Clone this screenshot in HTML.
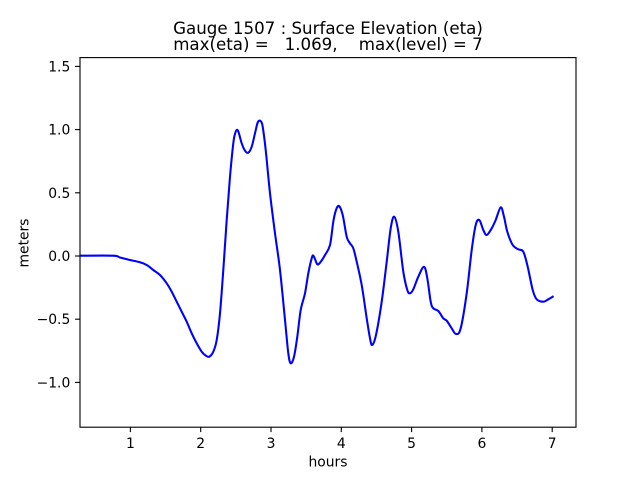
<!DOCTYPE html>
<html>
<head>
<meta charset="utf-8">
<style>
  html, body { margin: 0; padding: 0; background: #ffffff; }
  svg { display: block; }
  text { font-family: "DejaVu Sans", "Liberation Sans", sans-serif; fill: #000; }
</style>
</head>
<body>
<svg width="640" height="480" viewBox="0 0 640 480" xmlns="http://www.w3.org/2000/svg">
  <rect x="0" y="0" width="640" height="480" fill="#ffffff"/>

  <!-- Title -->
  <text x="328" y="34" font-size="16.67" text-anchor="middle" style="white-space:pre">Gauge 1507 : Surface Elevation (eta)</text>
  <text x="328" y="50" font-size="16.67" text-anchor="middle" style="white-space:pre" xml:space="preserve">max(eta) =   1.069,    max(level) = 7</text>

  <!-- Data line -->
  <polyline id="pl" fill="none" stroke="#0000ff" stroke-width="2.08" stroke-linejoin="round" stroke-linecap="square"
    points="80.5,255.7 113,255.7 120,257.5 130,260 140,262.3 146.7,265 153.3,270 160,275 166.7,283.3 171.7,291.7 176.7,301.7 181.7,311.7 186.7,321.7 191.7,333.3 196.7,343.3 201.7,351.7 206,355.7 209.3,356.7 213.3,351.7 216.7,340 220,313.3 223.3,270 226.7,220 230,176.7 233.3,143.3 235,134 236.7,130 238.5,132 241.7,143.3 245,150.7 248.3,152.7 251.7,146.7 255,133.3 257.5,123 259.3,120.7 261,121.5 262.7,126.7 265.7,150 270,193.3 275,233.3 280,270 285,320 288.3,353.3 290.7,363.3 294,356.7 297.3,336.7 300.7,310 305,293.3 308.3,273.3 311.7,258.3 313.5,255.8 316.7,263.3 318.5,264.3 322,260 325,255 330,245 333.3,221.7 336,210 339,206 342.7,215 346.7,236.7 350,243.3 353.3,248.3 356.7,261.7 361.7,285 366.7,318.3 370,338.3 372.2,345 376,335 381.7,301.7 386.7,261.7 390.7,228.3 394.2,216.7 398.3,231.7 403.3,271.7 407.3,290 410,293.3 413.3,289.3 418.3,276.7 424,266.8 427.3,278.3 430.7,301.7 433.3,308.3 438.3,311 443.3,318.3 446.7,320.7 451.7,328.3 456,334 460.7,328.3 466.7,293.3 471.7,250 475.7,225 479.3,220 483.3,230 486.7,235 491.7,228.3 495.7,220 500.7,207.3 504,216.7 507.3,231.7 512.7,245 518.3,249.3 523.3,251.7 527.7,266.7 532.7,290 536.7,299.3 543.3,301.7 548.3,299.3 552.7,296.7"/>
  <path id="sm" fill="none" stroke="#0000ff" stroke-width="2.08" stroke-linejoin="round" stroke-linecap="square" d=""/>

  <!-- Axes frame -->
  <rect x="80" y="57.6" width="496" height="369.6" fill="none" stroke="#000" stroke-width="1.11"/>

  <!-- X ticks -->
  <g stroke="#000" stroke-width="1.11">
    <line x1="130.4" y1="427.2" x2="130.4" y2="432.1"/>
    <line x1="200.7" y1="427.2" x2="200.7" y2="432.1"/>
    <line x1="271.0" y1="427.2" x2="271.0" y2="432.1"/>
    <line x1="341.3" y1="427.2" x2="341.3" y2="432.1"/>
    <line x1="411.6" y1="427.2" x2="411.6" y2="432.1"/>
    <line x1="481.9" y1="427.2" x2="481.9" y2="432.1"/>
    <line x1="552.2" y1="427.2" x2="552.2" y2="432.1"/>
  </g>
  <g font-size="13.89" text-anchor="middle">
    <text x="130.4" y="448">1</text>
    <text x="200.7" y="448">2</text>
    <text x="271.0" y="448">3</text>
    <text x="341.3" y="448">4</text>
    <text x="411.6" y="448">5</text>
    <text x="481.9" y="448">6</text>
    <text x="552.2" y="448">7</text>
  </g>

  <!-- Y ticks -->
  <g stroke="#000" stroke-width="1.11">
    <line x1="75.1" y1="66.4" x2="80" y2="66.4"/>
    <line x1="75.1" y1="129.6" x2="80" y2="129.6"/>
    <line x1="75.1" y1="192.8" x2="80" y2="192.8"/>
    <line x1="75.1" y1="256.0" x2="80" y2="256.0"/>
    <line x1="75.1" y1="319.2" x2="80" y2="319.2"/>
    <line x1="75.1" y1="382.4" x2="80" y2="382.4"/>
  </g>
  <g font-size="13.89" text-anchor="end">
    <text x="70.3" y="71.4">1.5</text>
    <text x="70.3" y="134.6">1.0</text>
    <text x="70.3" y="197.8">0.5</text>
    <text x="70.3" y="261.0">0.0</text>
    <text x="70.3" y="324.2">−0.5</text>
    <text x="70.3" y="387.4">−1.0</text>
  </g>

  <!-- Axis labels -->
  <text x="328" y="466.5" font-size="13.89" text-anchor="middle">hours</text>
  <text transform="translate(28.5,243) rotate(-90)" font-size="13.89" text-anchor="middle">meters</text>
</svg>
<script>
(function(){
  try {
    var pl = document.getElementById('pl');
    var raw = pl.getAttribute('points').trim().split(/\s+/);
    var p = raw.map(function(s){ var a = s.split(','); return [parseFloat(a[0]), parseFloat(a[1])]; });
    var d = 'M' + p[0][0] + ',' + p[0][1];
    for (var i = 0; i < p.length - 1; i++) {
      var p0 = p[i > 0 ? i - 1 : i], p1 = p[i], p2 = p[i + 1], p3 = p[i + 2 < p.length ? i + 2 : i + 1];
      var t = 1/6;
      var c1x = p1[0] + (p2[0] - p0[0]) * t, c1y = p1[1] + (p2[1] - p0[1]) * t;
      var c2x = p2[0] - (p3[0] - p1[0]) * t, c2y = p2[1] - (p3[1] - p1[1]) * t;
      d += ' C' + c1x.toFixed(2) + ',' + c1y.toFixed(2) + ' ' + c2x.toFixed(2) + ',' + c2y.toFixed(2) + ' ' + p2[0] + ',' + p2[1];
    }
    document.getElementById('sm').setAttribute('d', d);
    pl.setAttribute('stroke', 'none');
  } catch (e) {}
})();
</script>
</body>
</html>
